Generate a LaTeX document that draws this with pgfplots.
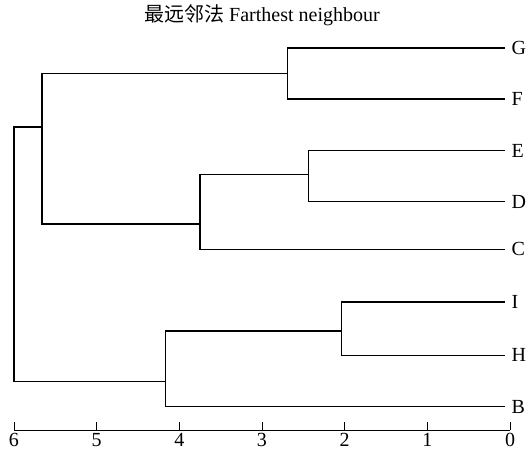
\documentclass[border=0pt]{standalone}
\usepackage{fontspec}
\setmainfont{Liberation Serif}
\newfontfamily\cjk{Noto Sans CJK SC}
\usepackage{pgfplots}
\pgfplotsset{compat=1.18}
\tikzset{dend/.style={black,solid,line width=1.5bp,line join=miter,mark=none}}
\begin{document}
\begin{tikzpicture}
\begin{axis}[
  scale only axis,
  width=496bp, height=382bp,
  x dir=reverse,
  xmin=0, xmax=6,
  ymin=0.545, ymax=8,
  axis x line*=bottom,
  axis y line*=right,
  y axis line style={draw=none},
  major y tick style={draw=none},
  xtick={0,1,2,3,4,5,6},
  tick align=inside,
  major tick length=8bp,
  x axis line style={line width=0.8bp},
  major x tick style={line width=0.8bp,black},
  ytick={1,2,3.04,4.07,5,6,7,8},
  yticklabels={B,H,I,C,D,E,F,G},
  yticklabel style={inner xsep=1.5bp},
  /pgf/number format/assume math mode=true,
  tick label style={font=\fontsize{20bp}{24bp}\selectfont},
  title={{\cjk 最远邻法} Farthest neighbour},
  title style={at={(0.5,1)},anchor=base,yshift=21bp,font=\fontsize{20bp}{24bp}\selectfont},
  clip=false,
]
\coordinate (sw) at (rel axis cs:0,0);
\coordinate (ne) at (rel axis cs:1,1);
% G-F
\addplot[dend] coordinates {(0.06,8) (2.69,8) (2.69,7) (0.06,7)};
% E-D
\addplot[dend] coordinates {(0.06,6) (2.44,6) (2.44,5) (0.06,5)};
% (ED)-C
\addplot[dend] coordinates {(2.44,5.535) (3.75,5.535) (3.75,4.07) (0.06,4.07)};
% (GF)-(EDC)
\addplot[dend] coordinates {(2.69,7.507) (5.66,7.507) (5.66,4.566) (3.75,4.566)};
% I-H
\addplot[dend] coordinates {(0.06,3.04) (2.04,3.04) (2.04,2) (0.06,2)};
% (IH)-B
\addplot[dend] coordinates {(2.04,2.48) (4.17,2.48) (4.17,1) (0.06,1)};
% root
\addplot[dend] coordinates {(5.66,6.46) (6,6.46) (6,1.49) (4.17,1.49)};
\end{axis}
\pgfresetboundingbox
\path[use as bounding box] ([shift={(-14bp,-29bp)}]sw) rectangle ([shift={(18bp,48bp)}]ne);
\end{tikzpicture}
\end{document}
